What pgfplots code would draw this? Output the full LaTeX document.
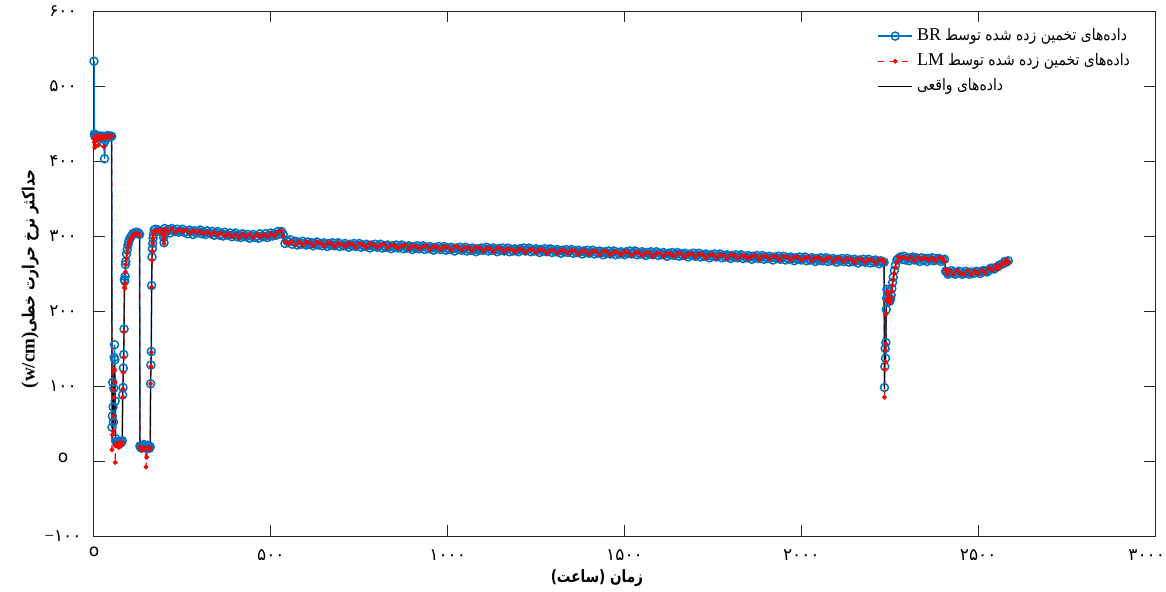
\documentclass[border=0pt]{standalone}
\usepackage{fontspec}
\setmainfont{Liberation Serif}
\newfontfamily\pfont[Script=Arabic]{DejaVu Sans}
\TeXXeTstate=1
\usepackage{graphicx}
\usepackage{pgfplots}
\pgfplotsset{compat=1.18}
\usepackage{pgfplotstable}
\definecolor{brblue}{RGB}{0,114,189}
\definecolor{frame}{RGB}{38,38,38}
% Persian run, squeezed a little to match the narrower original face
\newcommand{\fa}[2][0.87]{\scalebox{#1}[1]{\pfont #2}}

% t = hours, real = measured, lm = LM estimate
\pgfplotstableread{
t real lm
0 433 430
1 433 425
2 433 418
3 433 432
4 433 420
6 433 433
8 433 428
10 433 433
12 432 421
14 433 432
16 433 433
18 433 430
20 432 432
22 433 433
24 433 431
26 432 432
28 433 419
30 433 431
32 432 432
34 433 433
36 433 433
38 433 433
40 433 432
42 432 433
44 433 433
46 433 433
48 433 433
50 433 433
51 25 15
52 40 35
53 100 95
54 65 60
55 45 40
56 90 85
57 128 120
58 125 122
59 110 105
60 60 -2
61 26 20
62 24 22
64 23 21
66 24 24
68 23 22
70 24 18
72 23 23
74 24 24
76 23 20
78 24 23
80 25 24
81 90 85
82 100 96
83 120 118
84 140 138
85 176 172
86 238 232
87 236 230
88 240 236
89 256 252
90 264 262
92 272 270
94 278 277
96 286 284
98 290 289
100 293 292
103 296 295
106 299 298
110 301 300
114 303 302
118 304 304
122 304 303
126 303 302
129 302 301
130 18 18
131 17 17
133 17 16
135 17 17
137 17 15
139 18 17
141 17 16
143 17 17
145 18 16
147 17 -8
149 17 5
151 17 17
153 18 17
155 17 16
157 17 17
159 18 17
160 105 103
161 128 126
162 146 145
163 235 232
164 270 268
165 280 280
166 290 290
167 298 297
168 303 302
170 307 306
174 308 307
178 307 306
182 308 307
186 306 308
190 307 305
194 305 304
197 297 296
198 291 290
199 302 301
200 308 309
210 307 306
220 308 310
230 307 305
240 307 308
250 307 306
260 306 308
270 306 304
280 305 307
290 306 305
300 305 306
310 305 303
320 304 306
330 304 302
340 303 305
350 303 301
360 302 304
370 302 300
380 301 303
390 301 299
400 301 302
410 300 298
420 301 303
430 300 299
440 300 302
450 300 298
460 300 302
470 301 299
480 300 302
490 301 299
500 301 303
510 302 300
520 303 305
530 304 307
535 304 300
540 291 292
550 293 290
560 291 293
570 290 288
580 291 292
590 290 288
600 290 292
610 290 291
620 289 287
630 290 292
640 289 290
650 289 287
660 289 291
670 288 290
680 289 286
690 288 290
700 288 289
710 288 286
720 288 290
730 287 289
740 288 285
750 288 290
760 287 288
770 287 285
780 288 290
790 287 288
800 287 285
810 286 288
820 287 289
830 286 284
840 286 288
850 286 287
860 286 284
870 285 287
880 286 288
890 285 283
900 285 287
910 285 286
920 285 283
930 284 286
940 285 287
950 285 282
960 284 286
970 284 285
980 284 282
990 284 286
1000 284 285
1010 283 281
1020 284 286
1030 283 285
1040 283 281
1050 283 285
1060 283 284
1070 282 280
1080 283 285
1090 282 284
1100 282 280
1110 282 284
1120 282 283
1130 281 279
1140 282 284
1150 282 283
1160 281 279
1170 281 283
1180 281 282
1190 281 279
1200 281 283
1210 280 282
1220 281 278
1230 280 282
1240 280 282
1250 280 278
1260 280 282
1270 279 281
1280 280 277
1290 279 281
1300 280 281
1310 279 277
1320 279 281
1330 279 280
1340 279 277
1350 279 281
1360 278 280
1370 279 276
1380 278 280
1390 278 280
1400 278 276
1410 278 280
1420 278 279
1430 277 275
1440 278 280
1450 278 279
1460 277 275
1470 277 279
1480 277 278
1490 277 275
1500 277 279
1510 276 278
1520 277 274
1530 276 278
1540 276 278
1550 276 274
1560 276 278
1570 275 277
1580 276 273
1590 275 277
1600 276 277
1610 275 273
1620 275 277
1630 275 276
1640 275 273
1650 275 277
1660 274 276
1670 274 272
1680 274 276
1690 274 276
1700 274 272
1710 274 276
1720 273 275
1730 274 271
1740 273 275
1750 273 275
1760 273 271
1770 273 275
1780 272 274
1790 273 270
1800 273 275
1810 272 274
1820 272 270
1830 272 274
1840 272 273
1850 272 270
1860 271 273
1870 272 274
1880 271 269
1890 271 273
1900 271 273
1910 271 269
1920 271 273
1930 270 272
1940 271 268
1950 271 273
1960 270 272
1970 270 268
1980 270 272
1990 270 272
2000 270 268
2010 269 271
2020 270 272
2030 269 267
2040 269 271
2050 269 271
2060 269 267
2070 268 270
2080 269 271
2090 268 266
2100 268 270
2110 268 270
2120 268 266
2130 268 270
2140 267 269
2150 268 265
2160 267 269
2170 267 269
2180 267 265
2190 267 269
2200 267 268
2210 266 264
2220 267 269
2230 266 268
2234 266 265
2235 97 85
2236 128 122
2237 152 148
2238 136 132
2239 160 156
2240 200 196
2241 218 214
2242 229 226
2244 224 222
2246 218 216
2248 214 212
2250 213 211
2252 214 213
2254 220 218
2256 228 226
2258 236 234
2260 244 242
2263 252 250
2266 260 258
2270 266 265
2275 270 272
2280 271 270
2290 270 272
2300 271 269
2310 270 272
2320 269 267
2330 270 272
2340 270 269
2350 269 271
2360 270 268
2370 269 271
2380 269 267
2390 269 271
2400 268 270
2405 268 266
2408 254 255
2412 251 249
2420 252 254
2430 251 249
2440 252 254
2450 251 250
2460 251 249
2470 252 254
2480 251 249
2490 251 253
2500 252 250
2510 252 254
2520 253 251
2530 255 257
2540 256 255
2550 259 261
2555 258 256
2560 260 258
2565 263 262
2570 262 264
2575 265 263
2580 266 268
2585 266 265
}\obsdata

% t = hours, br = BR estimate
\pgfplotstableread{
t br
0 533
1 436
2 434
3 433
4 433
6 434
8 432
10 433
12 433
14 432
16 433
18 433
20 431
22 433
24 433
26 430
28 424
30 403
32 428
34 432
36 433
38 434
40 433
42 433
44 432
46 433
48 433
50 433
51 45
52 60
53 105
54 72
55 52
56 97
57 138
58 155
59 135
60 80
61 30
62 26
64 26
66 25
68 24
70 25
72 26
74 25
76 24
78 26
80 27
81 88
82 98
83 124
84 142
85 176
86 242
87 240
88 246
89 262
90 266
92 276
94 282
96 288
98 292
100 295
103 298
106 300
110 303
114 304
118 305
122 305
126 304
129 302
130 20
131 19
133 18
135 17
137 19
139 20
141 22
143 18
145 20
147 18
149 17
151 19
153 21
155 18
157 17
159 19
160 103
161 128
162 146
163 234
164 272
165 283
166 290
167 297
168 302
170 308
174 309
178 306
182 308
186 307
190 306
194 306
197 298
198 291
199 302
200 310
205 306
210 308
215 304
220 310
225 307
230 306
235 309
240 305
245 307
250 309
255 305
260 306
265 303
270 308
275 306
280 302
285 307
290 304
295 306
300 308
305 303
310 305
315 302
320 307
325 304
330 303
335 306
340 301
345 304
350 306
355 301
360 303
365 300
370 305
375 302
380 301
385 304
390 299
395 302
400 304
405 299
410 301
415 298
420 303
425 300
430 299
435 302
440 297
445 300
450 302
455 298
460 300
465 297
470 303
475 300
480 299
485 303
490 298
495 301
500 304
505 300
510 303
515 301
520 306
525 303
530 306
535 302
540 290
545 294
550 292
555 295
560 289
565 292
570 293
575 288
580 291
585 289
590 293
595 290
600 288
605 292
610 289
615 291
620 287
625 290
630 292
635 288
640 290
645 287
650 291
655 289
660 286
665 290
670 288
675 291
680 287
685 289
690 291
695 286
700 289
705 287
710 290
715 288
720 285
725 289
730 287
735 290
740 286
745 288
750 290
755 285
760 288
765 286
770 289
775 287
780 284
785 288
790 286
795 289
800 285
805 287
810 289
815 284
820 287
825 285
830 288
835 286
840 283
845 287
850 285
855 288
860 284
865 286
870 288
875 283
880 286
885 284
890 287
895 285
900 282
905 286
910 284
915 287
920 283
925 285
930 287
935 282
940 285
945 283
950 286
955 284
960 281
965 285
970 283
975 286
980 282
985 284
990 286
995 281
1000 284
1005 282
1010 285
1015 283
1020 280
1025 284
1030 282
1035 285
1040 281
1045 283
1050 285
1055 280
1060 283
1065 281
1070 284
1075 282
1080 279
1085 283
1090 281
1095 284
1100 281
1105 283
1110 285
1115 280
1120 283
1125 281
1130 284
1135 282
1140 279
1145 283
1150 281
1155 284
1160 280
1165 282
1170 284
1175 279
1180 282
1185 280
1190 283
1195 281
1200 279
1205 283
1210 281
1215 284
1220 280
1225 282
1230 284
1235 279
1240 282
1245 280
1250 283
1255 281
1260 278
1265 282
1270 280
1275 283
1280 279
1285 281
1290 283
1295 278
1300 281
1305 279
1310 282
1315 280
1320 277
1325 281
1330 279
1335 282
1340 278
1345 280
1350 282
1355 277
1360 280
1365 278
1370 281
1375 279
1380 276
1385 280
1390 278
1395 281
1400 277
1405 279
1410 281
1415 276
1420 279
1425 277
1430 280
1435 278
1440 275
1445 279
1450 277
1455 280
1460 276
1465 278
1470 280
1475 275
1480 278
1485 276
1490 279
1495 277
1500 275
1505 279
1510 277
1515 280
1520 276
1525 278
1530 280
1535 275
1540 278
1545 276
1550 279
1555 277
1560 274
1565 278
1570 276
1575 279
1580 275
1585 277
1590 279
1595 274
1600 277
1605 275
1610 278
1615 276
1620 273
1625 277
1630 275
1635 278
1640 274
1645 276
1650 278
1655 273
1660 276
1665 274
1670 277
1675 275
1680 272
1685 276
1690 274
1695 277
1700 273
1705 275
1710 277
1715 272
1720 275
1725 273
1730 276
1735 274
1740 271
1745 275
1750 273
1755 276
1760 272
1765 274
1770 276
1775 271
1780 274
1785 272
1790 275
1795 273
1800 270
1805 274
1810 272
1815 275
1820 271
1825 273
1830 275
1835 270
1840 273
1845 271
1850 274
1855 272
1860 269
1865 273
1870 271
1875 274
1880 270
1885 272
1890 274
1895 269
1900 272
1905 270
1910 273
1915 271
1920 268
1925 272
1930 270
1935 273
1940 269
1945 271
1950 273
1955 268
1960 271
1965 269
1970 272
1975 270
1980 267
1985 271
1990 269
1995 272
2000 268
2005 270
2010 272
2015 267
2020 270
2025 268
2030 271
2035 269
2040 266
2045 270
2050 268
2055 271
2060 267
2065 269
2070 271
2075 266
2080 269
2085 267
2090 270
2095 268
2100 265
2105 269
2110 267
2115 270
2120 266
2125 268
2130 270
2135 265
2140 268
2145 266
2150 269
2155 267
2160 264
2165 268
2170 266
2175 269
2180 265
2185 267
2190 269
2195 264
2200 267
2205 265
2210 268
2215 266
2220 263
2225 267
2230 265
2234 265
2235 98
2236 126
2237 150
2238 137
2239 158
2240 202
2241 217
2242 229
2244 226
2246 219
2248 215
2250 213
2252 216
2254 221
2256 230
2258 238
2260 245
2263 254
2266 261
2270 268
2275 270
2280 272
2285 269
2290 273
2295 268
2300 271
2305 267
2310 270
2315 272
2320 268
2325 271
2330 269
2335 266
2340 271
2345 268
2350 270
2355 266
2360 270
2365 268
2370 271
2375 267
2380 268
2385 270
2390 270
2395 266
2400 268
2405 269
2408 253
2412 252
2415 249
2420 251
2425 254
2430 252
2435 249
2440 251
2445 253
2450 252
2455 249
2460 250
2465 253
2470 251
2475 249
2480 252
2485 250
2490 251
2495 253
2500 252
2505 250
2510 253
2515 254
2520 253
2525 252
2530 254
2535 257
2540 257
2545 256
2550 258
2555 259
2560 261
2565 262
2570 263
2575 266
2580 265
2585 267
}\brdata

\begin{document}
\begin{tikzpicture}
\begin{axis}[
  scale only axis, width=530.5pt, height=262.5pt,
  xmin=0, xmax=3000, ymin=-100, ymax=600,
  xtick={0,500,...,3000}, ytick={-100,0,...,600},
  xticklabels={\raisebox{3.5pt}{o}, \beginR۵۰۰\endR, \beginR۱۰۰۰\endR, \beginR۱۵۰۰\endR,
    \beginR۲۰۰۰\endR, \beginR۲۵۰۰\endR, \hbox to 0pt{\hss\beginR۳۰۰۰\endR\kern-5pt}},
  yticklabels={\beginR\beginL{\rmfamily −}۱۰۰\endL\endR, \raisebox{3.5pt}{o}, \beginR۱۰۰\endR,
    \beginR۲۰۰\endR, \beginR۳۰۰\endR, \beginR۴۰۰\endR, \beginR۵۰۰\endR, \beginR۶۰۰\endR},
  tick label style={font=\pfont\fontsize{8.5}{10}\selectfont},
  xticklabel style={anchor=center, yshift=-9.5pt},
  yticklabel style={anchor=center, xshift=-15.5pt},
  tick align=inside, major tick length=5.5pt,
  axis line style={frame, line width=0.5pt},
  tick style={frame, line width=0.5pt},
  xlabel={\bfseries\fa[0.8]{\beginR زمان (ساعت)\endR}},
  ylabel={{\rmfamily\bfseries\fontsize{9.5}{11}\selectfont (w/cm)}\bfseries\fa[0.8]{\beginR حداکثر نرخ حرارت خطی\endR}},
  label style={font=\fontsize{8.5}{10}\selectfont},
  xlabel style={at={(axis description cs:0.474,0)}, anchor=center, yshift=-21pt},
  ylabel style={at={(axis description cs:0,0.49)}, anchor=center, yshift=32pt},
  legend cell align=left,
  legend style={draw=none, fill=none, at={(0.738,0.975)}, anchor=north west,
    font=\fontsize{8}{9}\selectfont, row sep=1pt, inner sep=0pt},
]
\coordinate (bl) at (rel axis cs:0,0);
\coordinate (tr) at (rel axis cs:1,1);
\addplot[brblue, line width=0.75pt, mark=o, mark size=2pt] table[x=t, y=br]{\brdata};
\addlegendentry{{\fontsize{9}{10}\selectfont BR}\ \fa{\beginR داده‌های تخمین زده شده توسط\endR}}
\addplot[red, dashed, line width=0.6pt, mark=*, mark size=0.9pt, mark options={solid}] table[x=t, y=lm]{\obsdata};
\addlegendentry{{\fontsize{9}{10}\selectfont LM}\ \fa{\beginR داده‌های تخمین زده شده توسط\endR}}
\addplot[black, line width=0.4pt] table[x=t, y=real]{\obsdata};
\addlegendentry{\fa{\beginR داده‌های واقعی\endR}}
\end{axis}
\pgfresetboundingbox
\path[use as bounding box] ([xshift=-47pt,yshift=-27.5pt]bl) rectangle ([xshift=5.5pt,yshift=5.5pt]tr);
\end{tikzpicture}
\end{document}
